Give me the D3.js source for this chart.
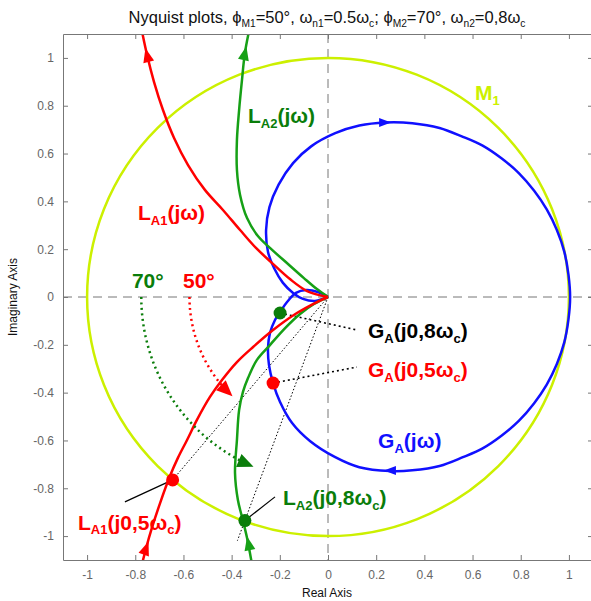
<!DOCTYPE html>
<html>
<head>
<meta charset="utf-8">
<title>Nyquist plots</title>
<script src="https://cdnjs.cloudflare.com/ajax/libs/d3/7.8.5/d3.min.js"></script>
<style>
 body { margin: 0; background: #fff; }
 text { font-family: "Liberation Sans", Arial, Helvetica, sans-serif; }
 .tick text { fill: #666; font-size: 12px; }
 .lbl { font-weight: bold; }
</style>
</head>
<body>
<svg id="viz" width="591" height="601"></svg>
<script>

// ---- data (real / imaginary parts) ----

var xTicks = [-1, -0.8, -0.6, -0.4, -0.2, 0, 0.2, 0.4, 0.6, 0.8, 1];
var yTicks = [-1, -0.8, -0.6, -0.4, -0.2, 0, 0.2, 0.4, 0.6, 0.8, 1];

// G_A(jw), closed loop through the origin
var gaRe = [0, -0.021, -0.054, -0.104, -0.145, -0.187, -0.224, -0.249, -0.257, -0.243, -0.205, -0.145, -0.07, 0.03, 0.13, 0.237, 0.35, 0.463, 0.56, 0.64, 0.72, 0.792, 0.855, 0.908, 0.95, 0.981, 0.998, 1.005,
            0.998, 0.981, 0.95, 0.908, 0.855, 0.792, 0.72, 0.64, 0.56, 0.463, 0.35, 0.257, 0.13, 0.03, -0.075, -0.149, -0.199, -0.228, -0.245, -0.249, -0.241, -0.220, -0.199, -0.170, -0.133, -0.091, -0.042, 0];
var gaIm = [0, -0.008, -0.017, -0.008, 0.017, 0.059, 0.121, 0.188, 0.280, 0.376, 0.470, 0.56, 0.63, 0.685, 0.717, 0.73, 0.727, 0.707, 0.67, 0.634, 0.58, 0.518, 0.445, 0.366, 0.28, 0.189, 0.095, 0,
            -0.095, -0.189, -0.28, -0.366, -0.445, -0.518, -0.58, -0.634, -0.67, -0.707, -0.725, -0.728, -0.712, -0.67, -0.602, -0.527, -0.439, -0.360, -0.284, -0.213, -0.151, -0.096, -0.063, -0.021, 0.017, 0.029, 0.021, 0];

// L_A1(jw), upper and lower branch
var l1UpRe = [-0.78, -0.751, -0.722, -0.685, -0.639, -0.581, -0.511, -0.436, -0.365, -0.299, -0.232, -0.158, -0.087, 0];
var l1UpIm = [1.15, 1.012, 0.899, 0.782, 0.665, 0.552, 0.448, 0.364, 0.280, 0.205, 0.142, 0.075, 0.025, 0];
var l1LoRe = [0, -0.046, -0.129, -0.228, -0.311, -0.378, -0.440, -0.490, -0.544, -0.585, -0.623, -0.656, -0.697, -0.731, -0.755, -0.78];
var l1LoIm = [0, -0.021, -0.067, -0.138, -0.209, -0.272, -0.347, -0.418, -0.514, -0.598, -0.673, -0.749, -0.862, -0.966, -1.050, -1.15];

// L_A2(jw), upper and lower branch
var l2UpRe = [-0.32, -0.345, -0.357, -0.369, -0.378, -0.378, -0.365, -0.336, -0.291, -0.232, -0.166, -0.100, -0.046, 0];
var l2UpIm = [1.15, 1.020, 0.908, 0.782, 0.657, 0.531, 0.427, 0.330, 0.255, 0.197, 0.138, 0.079, 0.033, 0];
var l2LoRe = [0, -0.058, -0.116, -0.178, -0.241, -0.295, -0.332, -0.353, -0.369, -0.378, -0.386, -0.374, -0.357, -0.336, -0.31];
var l2LoIm = [0, -0.029, -0.071, -0.130, -0.201, -0.263, -0.339, -0.397, -0.473, -0.598, -0.736, -0.849, -0.920, -1.008, -1.15];

// M1 circle: centre and radius
var m1Centre = [0, 0];
var m1Radius = 1;

// marked points
var gaAt08 = [-0.199, -0.067];
var gaAt05 = [-0.228, -0.360];
var l1At05 = [-0.645, -0.765];
var l2At08 = [-0.345, -0.935];

// phase margin arcs: radius, start and end angle (deg)
var arc50 = [0.575, 180, 229];
var arc70 = [0.775, 180, 250];

// direction arrows: [re, im, dRe, dIm]
var gaArrows = [[0.237, 0.73, 1, 0], [0.257, -0.726, -1, 0]];
var l1Arrows = [[-0.751, 1.012, -0.021, 0.088], [-0.755, -1.050, 0.021, 0.058]];
var l2Arrows = [[-0.345, 1.020, 0.021, 0.096], [-0.330, -1.030, -0.021, 0.1]];

// ---- drawing ----

var svg = d3.select("#viz");

var mLeft = 63, mTop = 34, plotW = 530, plotH = 526;

var x = d3.scaleLinear().domain([-1.1, 1.1]).range([mLeft, mLeft + plotW]);
var y = d3.scaleLinear().domain([-1.1, 1.1]).range([mTop + plotH, mTop]);

var red = "#ff0000", green = "#16a016", dkGreen = "#0a7d0a", blue = "#1010ff", yellow = "#ccf000";

svg.append("defs").append("clipPath").attr("id", "clip")
    .append("rect").attr("x", mLeft).attr("y", mTop).attr("width", plotW).attr("height", plotH);

var plot = svg.append("g").attr("clip-path", "url(#clip)");

// zero lines
plot.append("line")
    .attr("x1", x(0)).attr("x2", x(0)).attr("y1", mTop).attr("y2", mTop + plotH)
    .attr("stroke", "#777").attr("stroke-dasharray", "9,6");
plot.append("line")
    .attr("x1", mLeft).attr("x2", mLeft + plotW).attr("y1", y(0)).attr("y2", y(0))
    .attr("stroke", "#777").attr("stroke-dasharray", "9,6");

// M1 circle
plot.append("ellipse")
    .attr("cx", x(m1Centre[0])).attr("cy", y(m1Centre[1]))
    .attr("rx", x(m1Radius) - x(0)).attr("ry", y(0) - y(m1Radius))
    .attr("fill", "none").attr("stroke", yellow).attr("stroke-width", 2.5);

// thin dotted rays from the origin
function ray(p, q, w, dash) {
    plot.append("line")
        .attr("x1", x(p[0])).attr("y1", y(p[1]))
        .attr("x2", x(q[0])).attr("y2", y(q[1]))
        .attr("stroke", "#000").attr("stroke-width", w).attr("stroke-dasharray", dash);
}
ray([0, 0], l1At05, 1, "1.5,2");
ray([0, 0], [l2At08[0] * 1.09, l2At08[1] * 1.09], 1, "1.5,2");
ray(gaAt08, [0.12, -0.138], 1.6, "2,3");
ray(gaAt05, [0.12, -0.293], 1.6, "2,3");

// solid leaders for the L points
ray(l1At05, [-0.843, -0.857], 1.2, null);
ray(l2At08, [-0.22, -0.836], 1.2, null);

// curves
var line = d3.line()
    .x(function(d) { return x(d[0]); })
    .y(function(d) { return y(d[1]); })
    .curve(d3.curveCatmullRom.alpha(0.5));

function curve(re, im, color) {
    plot.append("path")
        .attr("d", line(d3.zip(re, im)))
        .attr("fill", "none").attr("stroke", color).attr("stroke-width", 2.5)
        .attr("stroke-linejoin", "round");
}

function arrowHead(re, im, dre, dim, color, len, wid) {
    var ang = Math.atan2(y(im + dim) - y(im), x(re + dre) - x(re)) * 180 / Math.PI;
    plot.append("path")
        .attr("d", "M" + (len / 2) + ",0L" + (-len / 2) + "," + (-wid / 2) + "L" + (-len / 2) + "," + (wid / 2) + "Z")
        .attr("transform", "translate(" + x(re) + "," + y(im) + ") rotate(" + ang + ")")
        .attr("fill", color);
}

// phase margin arcs
function pmArc(a, color) {
    var r = a[0], a0 = a[1] * Math.PI / 180, a1 = (a[2] - 6) * Math.PI / 180;
    var rx = x(r) - x(0), ry = y(0) - y(r);
    plot.append("path")
        .attr("d", "M" + x(r * Math.cos(a0)) + "," + y(r * Math.sin(a0)) +
                   " A" + rx + "," + ry + " 0 0 0 " + x(r * Math.cos(a1)) + "," + y(r * Math.sin(a1)))
        .attr("fill", "none").attr("stroke", color).attr("stroke-width", 2.5)
        .attr("stroke-dasharray", "2,3.5");
    var t = a[2] * Math.PI / 180, b = (a[2] - 6) * Math.PI / 180;
    arrowHead(r * Math.cos(b), r * Math.sin(b),
              r * (Math.cos(t) - Math.cos(b)), r * (Math.sin(t) - Math.sin(b)), color, 16, 14);
}

curve(gaRe, gaIm, blue);
curve(l2UpRe, l2UpIm, green);
curve(l2LoRe, l2LoIm, green);
curve(l1UpRe, l1UpIm, red);
curve(l1LoRe, l1LoIm, red);

pmArc(arc50, red);
pmArc(arc70, dkGreen);

gaArrows.forEach(function(a) { arrowHead(a[0], a[1], a[2], a[3], blue, 12, 9); });
l1Arrows.forEach(function(a) { arrowHead(a[0], a[1], a[2], a[3], red, 14, 11); });
l2Arrows.forEach(function(a) { arrowHead(a[0], a[1], a[2], a[3], green, 14, 11); });

// marked points
[[gaAt08, dkGreen], [gaAt05, red], [l1At05, red], [l2At08, dkGreen]].forEach(function(p) {
    plot.append("circle")
        .attr("cx", x(p[0][0])).attr("cy", y(p[0][1])).attr("r", 6.5)
        .attr("fill", p[1]);
});

// axes, ticks pointing inward
function styleAxis(g) {
    g.selectAll("path,line").attr("stroke", "#777");
}
svg.append("g").attr("transform", "translate(0," + (mTop + plotH) + ")")
    .call(d3.axisBottom(x).tickValues(xTicks).tickSizeInner(-5).tickSizeOuter(0).tickPadding(10)
          .tickFormat(function(d) { return String(d); }))
    .call(styleAxis);
svg.append("g").attr("transform", "translate(" + mLeft + ",0)")
    .call(d3.axisLeft(y).tickValues(yTicks).tickSizeInner(-5).tickSizeOuter(0).tickPadding(9)
          .tickFormat(function(d) { return String(d); }))
    .call(styleAxis);
svg.append("g").attr("transform", "translate(0," + mTop + ")")
    .call(d3.axisTop(x).tickValues(xTicks).tickSizeInner(-5).tickSizeOuter(0).tickFormat(""))
    .call(styleAxis);
svg.append("g").attr("transform", "translate(" + (mLeft + plotW) + ",0)")
    .call(d3.axisRight(y).tickValues(yTicks).tickSizeInner(-5).tickSizeOuter(0).tickFormat(""))
    .call(styleAxis);
svg.selectAll(".tick text").attr("fill", "#666").style("font-size", "12px");

// text with _{subscripts}
function richText(px, py, str, size, color, cls, anchor) {
    var t = svg.append("text").attr("x", px).attr("y", py)
        .attr("fill", color).style("font-size", size + "px");
    if (cls) t.attr("class", cls);
    if (anchor) t.attr("text-anchor", anchor);
    var parts = str.split(/_\{([^}]*)\}/);
    var shift = size * 0.22;
    var pending = 0;
    parts.forEach(function(s, i) {
        if (s === "") return;
        var sp = t.append("tspan").text(s);
        if (i % 2 === 1) {
            sp.attr("dy", shift).style("font-size", (size * 0.62) + "px");
            pending = -shift;
        } else if (pending) {
            sp.attr("dy", pending);
            pending = 0;
        }
    });
    return t;
}

richText(327, 23, "Nyquist plots, \u03d5_{M1}=50\u00b0, \u03c9_{n1}=0.5\u03c9_{c}; \u03d5_{M2}=70\u00b0, \u03c9_{n2}=0,8\u03c9_{c}", 16.5, "#111", null, "middle");

svg.append("text").attr("x", 327).attr("y", 597).attr("text-anchor", "middle")
    .style("font-size", "12px").attr("fill", "#111").text("Real Axis");
svg.append("text").attr("transform", "translate(17," + y(0) + ") rotate(-90)")
    .attr("text-anchor", "middle").style("font-size", "12px").attr("fill", "#111").text("Imaginary Axis");

// curve and point labels
var fs = 21;
richText(x(0.610), y(0.824), "M_{1}", fs, yellow, "lbl");
richText(x(-0.332), y(0.728), "L_{A2}(j\u03c9)", fs, dkGreen, "lbl");
richText(x(-0.789), y(0.322), "L_{A1}(j\u03c9)", fs, red, "lbl");
richText(x(-0.814), y(0.038), "70\u00b0", fs, dkGreen, "lbl");
richText(x(-0.602), y(0.038), "50\u00b0", fs, red, "lbl");
richText(x(0.166), y(-0.171), "G_{A}(j0,8\u03c9_{c})", fs, "#000", "lbl");
richText(x(0.166), y(-0.335), "G_{A}(j0,5\u03c9_{c})", fs, red, "lbl");
richText(x(0.208), y(-0.632), "G_{A}(j\u03c9)", fs, blue, "lbl");
richText(x(-1.038), y(-0.974), "L_{A1}(j0,5\u03c9_{c})", fs, red, "lbl");
richText(x(-0.187), y(-0.870), "L_{A2}(j0,8\u03c9_{c})", fs, dkGreen, "lbl");

</script>
</body>
</html>
